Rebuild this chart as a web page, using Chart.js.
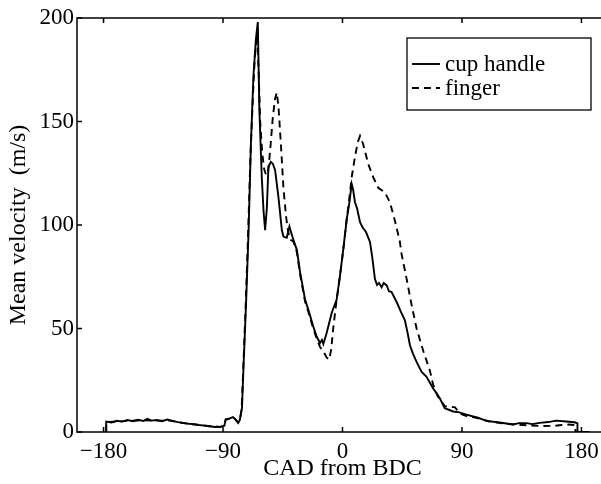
<!DOCTYPE html>
<html>
<head>
<meta charset="utf-8">
<script src="https://cdn.jsdelivr.net/npm/chart.js@4.4.1/dist/chart.umd.min.js"></script>
<style>
  html, body { margin: 0; padding: 0; background: #fff; overflow: hidden; }
  #wrap { position: relative; width: 610px; height: 484px; }
</style>
</head>
<body>
<div id="wrap"><canvas id="velChart"></canvas></div>
<script>
// crank angle (deg from BDC) and mean velocity (m/s)
let cupAngle = [-178, -178, -174, -170, -166, -162, -158, -154, -150, -147, -144, -140, -136, -132, -128, -124, -120, -116, -112, -108, -104, -100, -96, -92, -89, -88, -85, -82.5, -80.5, -78.6, -77.3,
	-75.7, -74.6, -72.6, -70.8, -69, -67.1, -65.2, -63.8, -62.6, -60.8, -59.5, -58.3, -57, -55.8, -54, -52.4, -50.8, -48.3, -45.7, -44.5, -42, -40, -38.5, -37, -34.4, -31.9, -28.2, -25.7, -22, -19.4, -16.9, -15.5, -14.4, -11.9, -8.1, -4.4, -2,
	0.6, 3.2, 5, 6.9, 8, 9.4, 11, 13.2, 15, 17.7, 20.7, 22.5, 24.4, 26, 27.5, 29.5, 31, 33.3, 35, 37, 40.8, 44, 47, 49, 50.8, 53, 55.8, 59.5, 63.3, 68.2, 73.3, 77, 83.3, 88, 93.3,
	102, 108.3, 118.4, 128.4, 133, 138.5, 143, 148.5, 155, 161, 168.6, 174.8, 177, 177, 186];
let cupVel = [0, 5, 4.6, 5.4, 5, 5.8, 5.2, 5.9, 5.3, 6.4, 5.5, 5.8, 5.2, 6, 5.4, 4.8, 4.4, 4, 3.8, 3.4, 3.1, 2.8, 2.4, 2.5, 3, 6, 6.6, 7.2, 6, 4.4, 6,
	11.7, 31, 63, 96, 139, 172, 190, 198, 155, 123, 107, 97.5, 108, 128, 130.5, 129.5, 126.6, 113.7, 97.6, 94.4, 93.8, 99.3, 96, 92.8, 88, 77, 64, 59, 51, 46, 43, 44.5, 42.5, 47.9, 57.6, 64, 75,
	88.3, 102.8, 110, 119.8, 117, 111, 108, 101.4, 99, 96.6, 91.8, 84, 74, 71, 72, 69.9, 72, 70.8, 68, 67.6, 62.8, 58, 54, 48, 41.9, 38, 33.9, 29.1, 26.7, 21.1, 16.3, 11.5, 9.9, 9.5, 8.4,
	6.9, 5.4, 4.6, 3.6, 4.3, 4.3, 3.8, 4.4, 4.8, 5.5, 5.1, 4.7, 4.2, 0, 0];

let fingerAngle = [-178, -178, -170, -160, -150, -140, -130, -120, -110, -100, -92, -89, -88, -85, -82.5, -80.5, -78.6, -77.3,
	-76, -74.8, -73, -71.2, -69.4, -67.5, -66, -64.5, -63.2, -62, -60.5, -59, -57.5, -56, -54.5, -52.5, -50.8, -49.5, -48.2, -46.5, -44.5, -42.5, -41, -39.5, -37, -34.4, -31.9, -28.2, -25.7, -22, -19.4, -16.9, -14.4, -12, -10, -8.5, -7, -4.4, -2,
	0.6, 3.2, 5, 6.9, 9.4, 11.5, 13.2, 15.6, 19.4, 23.2, 26.9, 31.9, 35.7, 39.5, 43.2, 44.5, 48.3, 52, 55.8, 60.9, 65.9, 68.2, 72, 77, 81, 84.6, 88.4, 94,
	100, 110, 120, 130, 140, 150, 160, 165, 170, 175.5, 175.5];
let fingerVel = [0, 4.8, 5, 5.5, 5.6, 5.5, 5.5, 4.3, 3.5, 2.8, 2.5, 3, 6, 6.4, 7, 6, 4.6, 6,
	11, 30, 60, 94, 132, 162, 182, 192, 175, 150, 135, 127, 124, 126, 136, 152, 161, 164, 157, 140, 118, 104, 97, 93, 92, 87, 76, 63, 58, 50, 45, 41, 39, 36, 35, 40, 50, 64, 75,
	88, 103, 112, 123, 133, 140, 143, 139, 129.4, 123, 118, 115.8, 111, 102, 92, 86, 74, 61.5, 50, 39, 29.5, 23, 17, 12.5, 12, 12, 9, 7.5,
	7, 5.2, 4.2, 3.6, 3.2, 2.9, 3, 3.4, 3.6, 3.3, 0];

let xTicks = [-180, -90, 0, 90, 180];
let yTicks = [0, 50, 100, 150, 200];

let toPoints = function (xs, ys) {
	return xs.map(function (v, i) { return { x: v, y: ys[i] }; });
};

Chart.defaults.font.family = '"Liberation Serif", "Times New Roman", serif';
Chart.defaults.color = '#000';

// box, inward ticks and boxed legend like the matlab figure
let framePlugin = {
	id: 'frame',
	afterDraw: function (chart) {
		let ctx = chart.ctx;
		let a = chart.chartArea;
		let xs = chart.scales.x, ys = chart.scales.y;
		ctx.save();
		ctx.strokeStyle = '#000';
		ctx.lineWidth = 1.5;
		ctx.setLineDash([]);
		ctx.strokeRect(a.left, a.top, a.right - a.left, a.bottom - a.top);
		let t = 5;
		ctx.beginPath();
		xTicks.forEach(function (v) {
			let p = xs.getPixelForValue(v);
			ctx.moveTo(p, a.bottom); ctx.lineTo(p, a.bottom - t);
			ctx.moveTo(p, a.top); ctx.lineTo(p, a.top + t);
		});
		yTicks.forEach(function (v) {
			let p = ys.getPixelForValue(v);
			ctx.moveTo(a.left, p); ctx.lineTo(a.left + t, p);
			ctx.moveTo(a.right, p); ctx.lineTo(a.right - t, p);
		});
		ctx.stroke();

		// legend
		let lx = a.right - 201, ly = a.top + 20, lw = 184, lh = 72;
		ctx.fillStyle = '#fff';
		ctx.fillRect(lx, ly, lw, lh);
		ctx.lineWidth = 1.3;
		ctx.strokeRect(lx, ly, lw, lh);
		ctx.font = '23px "Liberation Serif", serif';
		ctx.fillStyle = '#000';
		ctx.textBaseline = 'alphabetic';
		chart.data.datasets.forEach(function (ds, i) {
			let yy = ly + 26 + i * 24;
			ctx.lineWidth = ds.borderWidth;
			ctx.setLineDash(ds.borderDash || []);
			ctx.beginPath();
			ctx.moveTo(lx + 5, yy);
			ctx.lineTo(lx + 33, yy);
			ctx.stroke();
			ctx.setLineDash([]);
			ctx.fillText(ds.label, lx + 38, yy + 7);
		});
		ctx.restore();
	}
};

let chart = new Chart("velChart", {
	type: "line",
	data: {
		datasets: [{
			label: "cup handle",
			data: toPoints(cupAngle, cupVel),
			borderColor: "#000",
			borderWidth: 1.9,
			pointRadius: 0,
			fill: false,
			tension: 0
		}, {
			label: "finger",
			data: toPoints(fingerAngle, fingerVel),
			borderColor: "#000",
			borderWidth: 1.9,
			borderDash: [7, 5],
			pointRadius: 0,
			fill: false,
			tension: 0
		}]
	},
	options: {
		responsive: true,
		maintainAspectRatio: false,
		animation: false,
		layout: { padding: { left: 0, right: 2, top: 18, bottom: 0 } },
		plugins: {
			legend: { display: false },
			tooltip: { enabled: false }
		},
		scales: {
			x: {
				type: "linear",
				min: -200,
				max: 200,
				afterBuildTicks: function (scale) {
					scale.ticks = xTicks.map(function (v) { return { value: v }; });
				},
				afterFit: function (scale) { scale.height = 52; },
				grid: { display: false, drawTicks: false },
				border: { display: false },
				ticks: {
					font: { size: 23 },
					padding: 6,
					maxRotation: 0,
					callback: function (v) { return String(v).replace('-', '\u2212'); }
				},
				title: {
					display: true,
					text: "CAD from BDC",
					font: { size: 24 },
					padding: { top: 0, bottom: 1 }
				}
			},
			y: {
				min: 0,
				max: 200,
				afterBuildTicks: function (scale) {
					scale.ticks = yTicks.map(function (v) { return { value: v }; });
				},
				afterFit: function (scale) { scale.width = 77; },
				grid: { display: false, drawTicks: false },
				border: { display: false },
				ticks: {
					font: { size: 23 },
					padding: 3
				},
				title: {
					display: true,
					text: "Mean velocity  (m/s)",
					font: { size: 24 },
					padding: { top: 4, bottom: 0 }
				}
			}
		}
	},
	plugins: [framePlugin]
});
</script>
</body>
</html>
